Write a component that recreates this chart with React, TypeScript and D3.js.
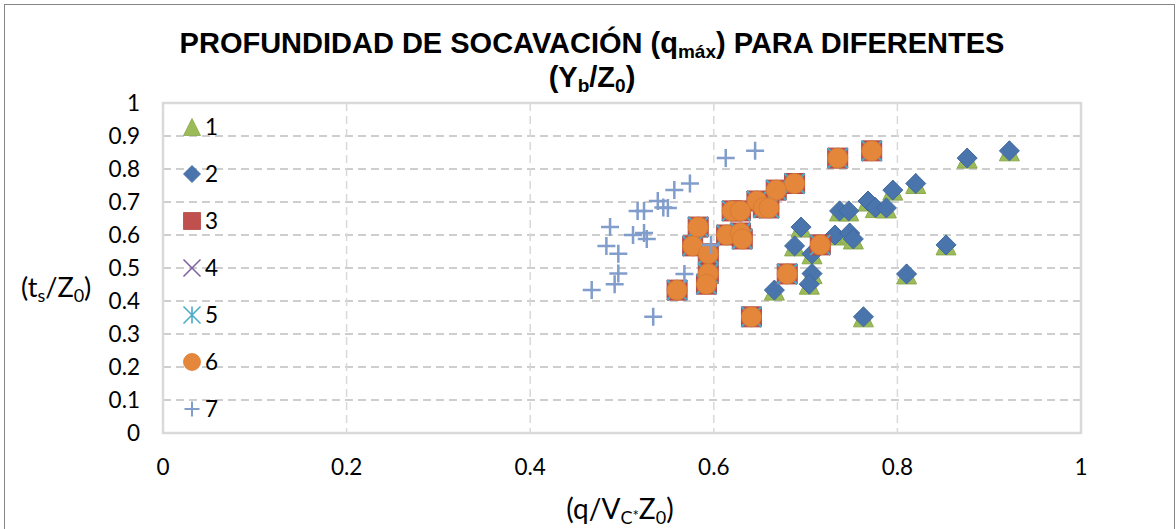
import * as d3 from "d3";

const width = 1176;
const height = 529;

// shared (ts/Z0) values, one per point
const tsZ0 = [
  0.855, 0.833, 0.756, 0.736, 0.703, 0.683, 0.682, 0.673, 0.673, 0.624, 0.567,
  0.6, 0.606, 0.588, 0.543, 0.57, 0.483, 0.451, 0.482, 0.352, 0.433,
];
// (q/Vc*Z0) values
const qSeries12 = [
  0.922, 0.876, 0.82, 0.795, 0.768, 0.776, 0.788, 0.737, 0.747, 0.695, 0.688,
  0.732, 0.748, 0.752, 0.707, 0.853, 0.707, 0.704, 0.81, 0.763, 0.666,
];
const qSeries3456 = [
  0.772, 0.735, 0.688, 0.668, 0.647, 0.654, 0.66, 0.62, 0.629, 0.583, 0.577,
  0.614, 0.629, 0.631, 0.594, 0.716, 0.594, 0.592, 0.68, 0.641, 0.56,
];
const qSeries7 = [
  0.645, 0.613, 0.574, 0.557, 0.539, 0.545, 0.55, 0.517, 0.524, 0.487, 0.483,
  0.512, 0.524, 0.527, 0.496, 0.597, 0.496, 0.492, 0.568, 0.534, 0.467,
];

const seriesNames = ["1", "2", "3", "4", "5", "6", "7"];
const xTicks = [0, 0.2, 0.4, 0.6, 0.8, 1];
const yTicks = [0, 0.1, 0.2, 0.3, 0.4, 0.5, 0.6, 0.7, 0.8, 0.9, 1];

const series = [
  { name: seriesNames[0], shape: "triangle", fill: "#9BBB59", stroke: "#8AAA4C", xs: qSeries12 },
  { name: seriesNames[1], shape: "diamond", fill: "#4A75AC", stroke: "#3F68A0", xs: qSeries12 },
  { name: seriesNames[2], shape: "square", fill: "#C0504D", stroke: "#B04845", xs: qSeries3456 },
  { name: seriesNames[3], shape: "x", fill: "none", stroke: "#8064A2", xs: qSeries3456 },
  { name: seriesNames[4], shape: "star", fill: "none", stroke: "#4BACC6", xs: qSeries3456 },
  { name: seriesNames[5], shape: "circle", fill: "#E5873B", stroke: "#D97B32", xs: qSeries3456 },
  { name: seriesNames[6], shape: "plus", fill: "none", stroke: "#819DCB", xs: qSeries7 },
];

const plot = { left: 163, right: 1081, top: 103, bottom: 433 };
const x = d3.scaleLinear().domain([0, 1]).range([plot.left, plot.right]);
const y = d3.scaleLinear().domain([0, 1]).range([plot.bottom, plot.top]);

const markerPath = (shape: string, s: number) => {
  const h = s / 2;
  const p = d3.path();
  if (shape === "triangle") {
    p.moveTo(0, -h); p.lineTo(h, h); p.lineTo(-h, h); p.closePath();
  } else if (shape === "diamond") {
    p.moveTo(0, -h); p.lineTo(h, 0); p.lineTo(0, h); p.lineTo(-h, 0); p.closePath();
  } else if (shape === "square") {
    p.rect(-h, -h, s, s);
  } else if (shape === "circle") {
    p.arc(0, 0, h, 0, 2 * Math.PI);
  } else if (shape === "x") {
    p.moveTo(-h, -h); p.lineTo(h, h); p.moveTo(h, -h); p.lineTo(-h, h);
  } else if (shape === "star") {
    p.moveTo(-h, -h); p.lineTo(h, h); p.moveTo(h, -h); p.lineTo(-h, h);
    p.moveTo(0, -h); p.lineTo(0, h);
  } else if (shape === "plus") {
    p.moveTo(-h, 0); p.lineTo(h, 0); p.moveTo(0, -h); p.lineTo(0, h);
  }
  return p.toString();
};

const markerSize = (shape: string) => (shape === "plus" ? 18 : 20);
const strokeW = (shape: string) =>
  shape === "x" || shape === "star" ? 2 : shape === "plus" ? 2.5 : 1;

const labelFont = "Lato, 'Open Sans', sans-serif";

const App = () => {
  return (
    <svg
      width={width}
      height={height}
      style={{ position: "absolute", left: 0, top: 0, background: "#fff" }}
    >
      <rect x={4.5} y={4.5} width={1170} height={600} fill="#fff" stroke="#868686" />

      {/* title */}
      <text
        x={592}
        y={53}
        textAnchor="middle"
        fontFamily="'Liberation Sans', Arial, sans-serif"
        fontWeight="bold"
        fontSize={29}
      >
        <tspan>PROFUNDIDAD DE SOCAVACIÓN (q</tspan>
        <tspan fontSize={19} dy={5}>máx</tspan>
        <tspan dy={-5}>) PARA DIFERENTES</tspan>
      </text>
      <text
        x={592}
        y={87}
        textAnchor="middle"
        fontFamily="'Liberation Sans', Arial, sans-serif"
        fontWeight="bold"
        fontSize={29}
      >
        <tspan>(Y</tspan>
        <tspan fontSize={19} dy={5}>b</tspan>
        <tspan dy={-5}>/Z</tspan>
        <tspan fontSize={19} dy={5}>0</tspan>
        <tspan dy={-5}>)</tspan>
      </text>

      {/* gridlines */}
      {yTicks.slice(1, -1).map((t) => (
        <line
          key={`hy${t}`}
          x1={plot.left}
          x2={plot.right}
          y1={y(t)}
          y2={y(t)}
          stroke="#BFBFBF"
          strokeWidth={1.5}
          strokeDasharray="8,5"
        />
      ))}
      {xTicks.slice(1, -1).map((t) => (
        <line
          key={`vx${t}`}
          x1={x(t)}
          x2={x(t)}
          y1={plot.top}
          y2={plot.bottom}
          stroke="#D9D9D9"
          strokeWidth={1.5}
          strokeDasharray="8,5"
        />
      ))}
      <rect
        x={plot.left}
        y={plot.top}
        width={plot.right - plot.left}
        height={plot.bottom - plot.top}
        fill="none"
        stroke="#D9D9D9"
        strokeWidth={2.5}
      />

      {/* tick labels */}
      {yTicks.map((t) => (
        <text
          key={`yl${t}`}
          x={140}
          y={y(t)}
          dy="0.36em"
          textAnchor="end"
          fontFamily={labelFont}
          fontSize={22.5}
        >
          {d3.format("~g")(t)}
        </text>
      ))}
      {xTicks.map((t) => (
        <text
          key={`xl${t}`}
          x={x(t)}
          y={467}
          dy="0.36em"
          textAnchor="middle"
          fontFamily={labelFont}
          fontSize={22.5}
        >
          {d3.format("~g")(t)}
        </text>
      ))}

      {/* axis titles */}
      <text x={21} y={297} fontFamily={labelFont} fontSize={27}>
        <tspan>(t</tspan>
        <tspan fontSize={18} dy={5}>s</tspan>
        <tspan dy={-5}>/Z</tspan>
        <tspan fontSize={18} dy={5}>0</tspan>
        <tspan dy={-5}>)</tspan>
      </text>
      <text x={620} y={519} textAnchor="middle" fontFamily={labelFont} fontSize={28}>
        <tspan>(q/V</tspan>
        <tspan fontSize={18} dy={5}>C</tspan>
        <tspan fontSize={15} dy={-3}>*</tspan>
        <tspan dy={-2}>Z</tspan>
        <tspan fontSize={18} dy={5}>0</tspan>
        <tspan dy={-5}>)</tspan>
      </text>

      {/* points */}
      {series.map((s) => (
        <g key={`s${s.name}`}>
          {s.xs.map((v, i) => (
            <path
              key={i}
              transform={`translate(${x(v)},${y(tsZ0[i])})`}
              d={markerPath(s.shape, markerSize(s.shape))}
              fill={s.fill}
              stroke={s.stroke}
              strokeWidth={strokeW(s.shape)}
            />
          ))}
        </g>
      ))}

      {/* legend */}
      {series.map((s, i) => (
        <g key={`lg${s.name}`} transform={`translate(192,${127 + i * 47})`}>
          <path
            d={markerPath(s.shape, s.shape === "plus" ? 15 : 17)}
            fill={s.fill}
            stroke={s.stroke}
            strokeWidth={strokeW(s.shape) * 0.8}
          />
          <text x={13} dy="0.36em" fontFamily={labelFont} fontSize={22.5}>
            {s.name}
          </text>
        </g>
      ))}
    </svg>
  );
};

export default App;
